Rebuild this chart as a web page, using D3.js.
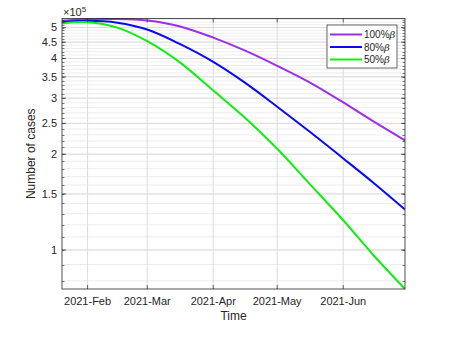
<!DOCTYPE html>
<html>
<head>
<meta charset="utf-8">
<script src="https://cdn.jsdelivr.net/npm/d3@7"></script>
<style>
  body { margin: 0; background: #fff; }
  text { font-family: "Liberation Sans", Arial, sans-serif; fill: #262626; }
</style>
</head>
<body>
<svg id="chart" width="455" height="342"></svg>
<script>
var width = 455, height = 342;
var margin = {left: 62, right: 50, top: 18.5, bottom: 53};

// data (cases, in units of 1e5)
var dates = ["2021-01-20", "2021-02-01", "2021-02-15", "2021-03-01", "2021-03-16", "2021-04-01",
             "2021-04-16", "2021-05-01", "2021-05-16", "2021-06-01", "2021-06-15", "2021-06-30"];
var beta100 = [5.25, 5.31, 5.32, 5.26, 5.05, 4.65, 4.23, 3.79, 3.37, 2.91, 2.54, 2.21];
var beta80  = [5.20, 5.25, 5.18, 4.93, 4.45, 3.90, 3.35, 2.82, 2.36, 1.94, 1.63, 1.34];
var beta50  = [5.15, 5.20, 5.00, 4.53, 3.90, 3.17, 2.60, 2.08, 1.62, 1.24, 0.966, 0.754];
var seriesNames = ["100%", "80%", "50%"];
var seriesColors = ["#9b30e8", "#0a0af0", "#10ee10"];
var monthTicks = ["2021-02-01", "2021-03-01", "2021-04-01", "2021-05-01", "2021-06-01"];
var yTicks = [1, 1.5, 2, 2.5, 3, 3.5, 4, 4.5, 5];

var parse = d3.utcParse("%Y-%m-%d");
var allSeries = [beta100, beta80, beta50].map(function(vals, k){
    return {name: seriesNames[k], color: seriesColors[k],
            values: vals.map(function(v, i){ return {date: parse(dates[i]), value: v * 1e5}; })};
});

var svg = d3.select("#chart");
var x = d3.scaleUtc()
    .domain([parse("2021-01-20"), parse("2021-06-30")])
    .range([margin.left, width - margin.right]);
var y = d3.scaleLog()
    .domain([75400, 534000])
    .range([height - margin.bottom, margin.top]);

// minor grid every 0.1e5
var minor = d3.range(8, 54).map(function(d){ return d * 1e4; })
    .filter(function(d){ return d >= y.domain()[0] && d <= y.domain()[1]; });

svg.append("g")
  .selectAll("line")
  .data(minor)
  .enter().append("line")
    .attr("x1", x.range()[0]).attr("x2", x.range()[1])
    .attr("y1", function(d){ return y(d); })
    .attr("y2", function(d){ return y(d); })
    .attr("stroke", "#ededed").attr("stroke-width", 1);

svg.append("g")
  .selectAll("line")
  .data(yTicks)
  .enter().append("line")
    .attr("x1", x.range()[0]).attr("x2", x.range()[1])
    .attr("y1", function(d){ return y(d * 1e5); })
    .attr("y2", function(d){ return y(d * 1e5); })
    .attr("stroke", "#dcdcdc").attr("stroke-width", 1);

svg.append("g")
  .selectAll("line")
  .data(monthTicks)
  .enter().append("line")
    .attr("x1", function(d){ return x(parse(d)); })
    .attr("x2", function(d){ return x(parse(d)); })
    .attr("y1", y.range()[0]).attr("y2", y.range()[1])
    .attr("stroke", "#dcdcdc").attr("stroke-width", 1);

// lines
var line = d3.line()
    .x(function(d){ return x(d.date); })
    .y(function(d){ return y(d.value); })
    .curve(d3.curveCatmullRom.alpha(0.5));

svg.append("defs").append("clipPath").attr("id", "clip")
  .append("rect")
    .attr("x", x.range()[0]).attr("y", y.range()[1] - 2)
    .attr("width", x.range()[1] - x.range()[0])
    .attr("height", y.range()[0] - y.range()[1] + 4);

svg.append("g")
    .attr("clip-path", "url(#clip)")
  .selectAll("path")
  .data(allSeries)
  .enter().append("path")
    .attr("d", function(d){ return line(d.values); })
    .attr("fill", "none")
    .attr("stroke", function(d){ return d.color; })
    .attr("stroke-width", 2);

// axes box and inward ticks
var axisColor = "#262626";
var x0 = x.range()[0], x1 = x.range()[1], y0 = y.range()[0], y1 = y.range()[1];

svg.append("g")
  .selectAll("line")
  .data(minor)
  .enter().append("g")
  .each(function(d){
      var g = d3.select(this);
      var yy = Math.round(y(d)) + 0.5;
      g.append("line").attr("x1", x0).attr("x2", x0 + 2.5).attr("y1", yy).attr("y2", yy);
      g.append("line").attr("x1", x1).attr("x2", x1 - 2.5).attr("y1", yy).attr("y2", yy);
  })
  .attr("stroke", axisColor).attr("stroke-width", 0.6);

svg.append("g")
  .selectAll("g")
  .data(yTicks)
  .enter().append("g")
  .each(function(d){
      var g = d3.select(this);
      var yy = y(d * 1e5);
      g.append("line").attr("x1", x0).attr("x2", x0 + 4).attr("y1", yy).attr("y2", yy);
      g.append("line").attr("x1", x1).attr("x2", x1 - 4).attr("y1", yy).attr("y2", yy);
  })
  .attr("stroke", axisColor).attr("stroke-width", 0.7);

svg.append("g")
  .selectAll("g")
  .data(monthTicks)
  .enter().append("g")
  .each(function(d){
      var g = d3.select(this);
      var xx = x(parse(d));
      g.append("line").attr("x1", xx).attr("x2", xx).attr("y1", y0).attr("y2", y0 - 4);
      g.append("line").attr("x1", xx).attr("x2", xx).attr("y1", y1).attr("y2", y1 + 4);
  })
  .attr("stroke", axisColor).attr("stroke-width", 0.7);

svg.append("rect")
    .attr("x", x0).attr("y", y1)
    .attr("width", x1 - x0).attr("height", y0 - y1)
    .attr("fill", "none").attr("stroke", axisColor).attr("stroke-width", 0.8);

// tick labels
var fmt = d3.format("~g");
svg.append("g")
  .selectAll("text")
  .data(yTicks)
  .enter().append("text")
    .attr("x", x0 - 5)
    .attr("y", function(d){ return y(d * 1e5); })
    .attr("dy", "0.35em")
    .attr("text-anchor", "end")
    .style("font-size", "11px")
    .text(function(d){ return fmt(d); });

var monthFmt = d3.utcFormat("%Y-%b");
svg.append("g")
  .selectAll("text")
  .data(monthTicks)
  .enter().append("text")
    .attr("x", function(d){ return x(parse(d)); })
    .attr("y", y0 + 16)
    .attr("text-anchor", "middle")
    .style("font-size", "11px")
    .text(function(d){ return monthFmt(parse(d)); });

// exponent label
var ex = svg.append("text")
    .attr("x", x0 + 1)
    .attr("y", y1 - 3)
    .style("font-size", "11px");
ex.append("tspan").text("\u00d710");
ex.append("tspan").attr("dy", -4).style("font-size", "8px").text("5");

// axis titles
svg.append("text")
    .attr("x", (x0 + x1) / 2)
    .attr("y", y0 + 31)
    .attr("text-anchor", "middle")
    .style("font-size", "12px")
    .text("Time");

svg.append("text")
    .attr("transform", "translate(" + 35 + "," + ((y0 + y1) / 2) + ") rotate(-90)")
    .attr("text-anchor", "middle")
    .style("font-size", "12px")
    .text("Number of cases");

// legend
var legend = svg.append("g").attr("transform", "translate(327,25)");
legend.append("rect")
    .attr("width", 70).attr("height", 43)
    .attr("fill", "#fff").attr("stroke", "#262626").attr("stroke-width", 0.7);

var item = legend.selectAll("g.item")
  .data(allSeries)
  .enter().append("g")
    .attr("class", "item")
    .attr("transform", function(d, i){ return "translate(0," + (9.5 + i * 12.5) + ")"; });

item.append("line")
    .attr("x1", 3).attr("x2", 35)
    .attr("stroke", function(d){ return d.color; })
    .attr("stroke-width", 2);

var lt = item.append("text")
    .attr("x", 37)
    .attr("dy", "0.35em")
    .style("font-size", "10px");
lt.append("tspan").text(function(d){ return d.name; });
lt.append("tspan").style("font-style", "italic").style("font-family", "'DejaVu Serif', serif").text("\u03b2");
</script>
</body>
</html>
